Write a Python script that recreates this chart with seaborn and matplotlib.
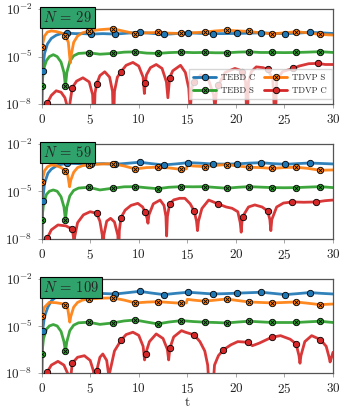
import numpy as np
import matplotlib
matplotlib.use("Agg")
import matplotlib.pyplot as plt
import seaborn as sns

# --- data: log10 of the error ---
sizes = [29, 59, 109]
labels = ["TEBD C", "TEBD S", "TDVP S", "TDVP C"]

# shared marker times
mk_tebd_c = [0.1, 2.6, 5.1, 7.6, 10.1, 12.6, 15.1, 17.6, 20.1, 22.6, 25.1, 27.6]
mk_tdvp_s = [0.02, 2.45, 4.85, 7.3, 9.65, 11.95, 14.3, 16.8, 19.05, 21.35, 23.75, 26.2, 28.65]
mk_tebd_s = [0.02, 2.45, 4.85, 7.3, 9.65, 11.95, 14.4, 16.8, 19.05, 21.35, 23.75, 26.2, 28.65]

t_tebd_s = [0, 0.02, 0.2, 0.5, 0.8, 1.2, 1.6, 2.0, 2.3, 2.45, 2.6, 2.9, 3.3, 3.8, 4.85, 6.0, 7.3, 8.5,
            9.65, 10.8, 11.95, 13.1, 14.4, 15.6, 16.8, 17.9, 19.05, 20.2, 21.35, 22.5, 23.75, 25.0,
            26.2, 27.4, 28.65, 30]

# N = 29
t_tebd_c_29 = [0, 0.1, 0.3, 0.6, 1.0, 1.5, 2.0, 2.6, 3.5, 4.3, 5.1, 6.3, 7.6, 8.8, 10.1, 11.3, 12.6, 13.8,
               15.1, 16.3, 17.6, 18.8, 20.1, 21.3, 22.6, 23.8, 25.1, 26.3, 27.6, 28.8, 30]
lg_tebd_c_29 = [-9, -5.9, -4.8, -4.2, -3.85, -3.65, -3.55, -3.52, -3.55, -3.55, -3.58, -3.55, -3.58, -3.52,
                -3.47, -3.53, -3.6, -3.55, -3.5, -3.53, -3.55, -3.55, -3.54, -3.52, -3.5, -3.53, -3.55,
                -3.52, -3.47, -3.5, -3.54]
t_tdvp_s_29 = [0, 0.02, 0.3, 0.6, 1.0, 1.5, 2.0, 2.45, 2.75, 2.95, 3.05, 3.3, 3.7, 4.2, 4.85, 6.0, 7.3, 8.5,
               9.65, 10.8, 11.95, 13.1, 14.3, 15.5, 16.8, 17.9, 19.05, 20.2, 21.35, 22.5, 23.75, 25.0,
               26.2, 27.4, 28.65, 30]
lg_tdvp_s_29 = [-6.5, -4.42, -3.7, -3.45, -3.38, -3.42, -3.5, -3.69, -4.1, -5.4, -4.9, -4.1, -3.7, -3.5,
                -3.39, -3.3, -3.24, -3.4, -3.56, -3.5, -3.47, -3.52, -3.54, -3.5, -3.45, -3.38, -3.33,
                -3.38, -3.41, -3.5, -3.56, -3.5, -3.43, -3.5, -3.6, -3.64]
lg_tebd_s_29 = [-9, -6.84, -5.8, -5.25, -5.0, -4.88, -5.0, -5.35, -6.0, -6.86, -6.0, -5.3, -4.95, -4.8,
                -4.76, -4.85, -4.8, -4.72, -4.7, -4.78, -4.8, -4.75, -4.72, -4.75, -4.74, -4.76, -4.76,
                -4.72, -4.7, -4.74, -4.74, -4.75, -4.74, -4.72, -4.69, -4.74]
t_tdvp_c_29 = [0.25, 0.6, 1.0, 1.5, 2.0, 2.4, 2.7, 2.8, 2.9, 3.15, 3.6, 4.25, 4.9, 5.25, 5.38, 5.5, 5.66,
               6.0, 6.5, 7.0, 7.3, 7.4, 7.5, 7.8, 8.17, 8.7, 9.4, 10.0, 10.45, 10.58, 10.67, 10.8, 11.2,
               11.8, 12.4, 12.85, 13.0, 13.18, 13.5, 14.3, 14.8, 15.15, 15.3, 15.45, 15.7, 16.4, 17.2,
               17.7, 17.85, 18.0, 18.2, 18.9, 19.9, 20.4, 20.65, 21.0, 21.15, 21.3, 21.6, 22.1, 22.8,
               23.27, 23.8, 24.05, 24.2, 24.8, 25.9, 26.5, 27.5, 28.5, 29.2, 30.0]
lg_tdvp_c_29 = [-8.6, -7.92, -7.45, -7.16, -7.25, -7.6, -8.3, -9.5, -8.0, -6.97, -6.55, -6.34, -6.6, -7.4,
                -9.5, -7.3, -6.74, -6.2, -5.96, -6.3, -7.2, -9.5, -7.2, -6.3, -5.96, -5.55, -5.37, -5.6,
                -6.3, -7.33, -6.65, -6.15, -5.7, -5.5, -5.75, -6.6, -7.6, -6.34, -5.9, -5.55, -6.0, -7.0,
                -8.5, -7.0, -6.6, -6.15, -6.5, -7.4, -8.3, -7.2, -6.8, -6.0, -5.75, -5.85, -5.96, -6.6,
                -9.5, -6.6, -5.95, -5.65, -5.7, -5.81, -6.4, -9.5, -6.5, -5.95, -5.75, -5.6, -5.45, -5.43,
                -5.5, -5.5]
mk_tdvp_c_29 = [0.6, 3.15, 5.66, 8.17, 10.67, 13.18, 15.7, 18.2, 20.65, 23.27, 25.9, 28.5]

# N = 59
t_tebd_c_59 = [0, 0.1, 0.3, 0.65, 1.0, 1.5, 2.0, 2.6, 3.8, 5.1, 6.3, 7.6, 8.8, 10.1, 11.3, 12.6, 13.8,
               15.1, 16.3, 17.6, 18.8, 20.1, 21.3, 22.6, 23.8, 25.1, 26.3, 27.6, 28.8, 30]
lg_tebd_c_59 = [-9, -5.62, -4.5, -3.86, -3.6, -3.4, -3.3, -3.23, -3.25, -3.27, -3.25, -3.29, -3.23, -3.16,
                -3.25, -3.33, -3.27, -3.19, -3.22, -3.27, -3.28, -3.27, -3.22, -3.19, -3.25, -3.29, -3.25,
                -3.21, -3.24, -3.27]
t_tdvp_s_59 = [0, 0.02, 0.3, 0.6, 1.0, 1.5, 2.0, 2.45, 2.7, 2.88, 3.0, 3.3, 3.7, 4.2, 4.85, 6.0, 7.3, 8.5,
               9.65, 10.8, 11.95, 13.1, 14.3, 14.9, 15.0, 15.6, 16.8, 17.9, 19.05, 20.2, 21.35, 22.5,
               23.75, 25.0, 26.2, 27.4, 28.65, 30]
lg_tdvp_s_59 = [-6.5, -4.39, -3.7, -3.45, -3.33, -3.38, -3.5, -3.69, -4.0, -4.72, -4.3, -3.8, -3.5, -3.38,
                -3.33, -3.28, -3.25, -3.4, -3.59, -3.5, -3.48, -3.52, -3.61, -3.58, -3.35, -3.4, -3.44,
                -3.36, -3.31, -3.4, -3.48, -3.5, -3.55, -3.5, -3.48, -3.55, -3.67, -3.65]
lg_tebd_s_59 = [-9, -6.83, -5.8, -5.2, -5.0, -4.92, -5.0, -5.35, -6.0, -6.8, -6.0, -5.3, -4.95, -4.8,
                -4.75, -4.92, -4.81, -4.72, -4.71, -4.78, -4.84, -4.75, -4.71, -4.72, -4.71, -4.76, -4.81,
                -4.75, -4.71, -4.74, -4.77, -4.78, -4.77, -4.74, -4.71, -4.77]
t_tdvp_c_59 = [0.3, 0.6, 1.0, 1.68, 2.5, 3.15, 3.28, 3.33, 3.4, 3.7, 4.3, 5.0, 5.66, 6.0, 6.25, 6.32, 6.4,
               6.7, 7.1, 7.5, 7.85, 7.92, 8.0, 8.17, 8.6, 9.2, 9.9, 10.4, 10.67, 10.85, 10.95, 11.05,
               11.5, 12.2, 12.6, 12.8, 12.87, 12.95, 13.18, 13.6, 14.2, 14.75, 15.3, 15.7, 15.95, 16.05,
               16.15, 16.5, 17.2, 18.2, 19.0, 19.6, 20.2, 20.45, 20.55, 20.62, 20.7, 21.3, 21.95, 22.7,
               23.27, 23.5, 23.6, 23.7, 24.2, 24.9, 25.8, 27.0, 28.3, 29.2, 30.0]
lg_tdvp_c_59 = [-9.0, -7.95, -7.45, -7.14, -7.2, -7.4, -7.9, -9.5, -7.9, -7.0, -6.5, -6.3, -6.4, -6.9,
                -7.8, -9.5, -7.8, -6.9, -6.72, -6.95, -7.8, -9.5, -7.5, -6.68, -6.2, -5.9, -5.77, -6.0,
                -6.34, -6.7, -7.03, -6.5, -5.8, -5.56, -5.9, -6.6, -7.84, -6.6, -5.81, -5.55, -5.45,
                -5.45, -5.8, -6.25, -6.9, -7.5, -6.9, -6.1, -5.56, -5.81, -6.0, -6.08, -6.3, -7.0, -7.6,
                -7.0, -6.61, -6.0, -5.87, -6.0, -6.25, -6.8, -7.5, -6.8, -6.0, -5.75, -5.68, -5.7, -5.68,
                -5.6, -5.56]
mk_tdvp_c_59 = [0.6, 3.15, 5.66, 8.17, 10.67, 13.18, 15.7, 18.2, 20.7, 23.27, 25.8, 28.3]

# N = 109
t_tebd_c_109 = [0, 0.1, 0.3, 0.64, 1.0, 1.8, 2.6, 3.8, 5.1, 6.3, 7.6, 8.8, 10.1, 11.3, 12.6, 13.8, 15.1,
                16.3, 17.6, 18.8, 20.1, 21.3, 22.6, 23.8, 25.1, 26.3, 27.6, 28.8, 30]
lg_tebd_c_109 = [-9, -5.3, -4.4, -3.8, -3.4, -3.0, -2.95, -2.93, -2.92, -2.93, -2.96, -2.88, -2.79, -2.9,
                 -3.0, -2.92, -2.85, -2.9, -2.96, -2.94, -2.91, -2.88, -2.85, -2.92, -3.0, -2.94, -2.87,
                 -2.92, -2.96]
t_tdvp_s_109 = [0, 0.02, 0.3, 0.8, 1.5, 2.0, 2.45, 2.7, 2.9, 3.0, 3.3, 3.7, 4.2, 4.85, 6.0, 7.3, 8.5,
                9.65, 10.8, 11.95, 13.1, 14.3, 14.9, 15.0, 15.6, 16.8, 17.9, 19.05, 20.2, 21.35, 22.5,
                23.75, 25.0, 26.2, 27.4, 28.65, 30]
lg_tdvp_s_109 = [-6.5, -4.38, -3.8, -3.49, -3.52, -3.57, -3.64, -3.95, -4.76, -4.4, -3.8, -3.5, -3.35,
                 -3.28, -3.23, -3.21, -3.35, -3.53, -3.48, -3.45, -3.5, -3.55, -3.53, -3.3, -3.35, -3.42,
                 -3.35, -3.28, -3.38, -3.47, -3.5, -3.53, -3.5, -3.47, -3.55, -3.64, -3.6]
lg_tebd_s_109 = [-9, -6.81, -5.8, -5.2, -5.0, -4.91, -5.0, -5.35, -6.0, -6.6, -6.0, -5.3, -4.95, -4.8,
                 -4.76, -4.9, -4.81, -4.68, -4.62, -4.75, -4.87, -4.75, -4.66, -4.72, -4.76, -4.78, -4.81,
                 -4.75, -4.7, -4.74, -4.78, -4.78, -4.78, -4.74, -4.7, -4.78]
t_tdvp_c_109 = [0.3, 0.6, 1.0, 1.68, 2.3, 2.8, 2.95, 3.05, 3.15, 3.7, 4.4, 5.0, 5.35, 5.45, 5.55, 5.66,
                6.0, 6.3, 6.7, 6.88, 6.93, 7.0, 7.5, 8.2, 8.7, 9.4, 10.0, 10.45, 10.6, 10.7, 11.1, 11.8,
                12.5, 12.95, 13.08, 13.2, 13.6, 14.4, 14.8, 15.7, 16.3, 16.8, 17.1, 17.3, 17.6, 17.8,
                18.2, 18.7, 19.5, 20.2, 21.2, 21.7, 22.4, 23.7, 24.6, 25.6, 26.2, 26.5, 26.6, 26.7, 27.1,
                27.8, 28.7, 29.3, 29.6, 29.7, 29.85, 30.0]
lg_tdvp_c_109 = [-9.0, -7.92, -7.5, -7.26, -7.5, -8.2, -9.5, -8.0, -7.38, -7.0, -6.9, -7.2, -7.9, -9.5,
                 -8.3, -7.89, -7.0, -6.79, -7.2, -8.0, -9.5, -8.0, -6.6, -5.89, -5.55, -5.4, -5.6, -6.3,
                 -7.17, -6.79, -6.0, -5.51, -5.8, -6.5, -7.17, -6.43, -5.7, -5.3, -5.4, -5.57, -6.0, -6.6,
                 -7.5, -9.5, -9.5, -7.5, -6.9, -6.53, -6.2, -6.0, -6.04, -6.26, -6.1, -5.72, -5.62, -5.85,
                 -6.15, -6.9, -7.38, -6.9, -6.0, -5.62, -5.87, -6.3, -7.0, -7.3, -7.0, -6.68]
mk_tdvp_c_109 = [0.6, 3.15, 5.66, 8.2, 10.7, 13.2, 15.7, 18.7, 21.2, 23.7, 26.2, 28.7]

panels = [
    [(t_tebd_c_29, lg_tebd_c_29, mk_tebd_c), (t_tebd_s, lg_tebd_s_29, mk_tebd_s),
     (t_tdvp_s_29, lg_tdvp_s_29, mk_tdvp_s), (t_tdvp_c_29, lg_tdvp_c_29, mk_tdvp_c_29)],
    [(t_tebd_c_59, lg_tebd_c_59, mk_tebd_c), (t_tebd_s, lg_tebd_s_59, mk_tebd_s),
     (t_tdvp_s_59, lg_tdvp_s_59, mk_tdvp_s), (t_tdvp_c_59, lg_tdvp_c_59, mk_tdvp_c_59)],
    [(t_tebd_c_109, lg_tebd_c_109, mk_tebd_c), (t_tebd_s, lg_tebd_s_109, mk_tebd_s),
     (t_tdvp_s_109, lg_tdvp_s_109, mk_tdvp_s), (t_tdvp_c_109, lg_tdvp_c_109, mk_tdvp_c_109)],
]

colors = ["#1f77b4", "#2ca02c", "#ff7f0e", "#d62728"]
crossed = [False, True, True, False]

# --- style ---
sns.set_theme(style="ticks")
plt.rcParams["font.family"] = ["cmr10", "DejaVu Serif"]
plt.rcParams["mathtext.fontset"] = "cm"
plt.rcParams["axes.unicode_minus"] = False
plt.rcParams["axes.formatter.use_mathtext"] = True

fig = plt.figure(figsize=(3.44, 4.13), dpi=100)
rects = [[0.121, 0.748, 0.847, 0.230],
         [0.121, 0.4225, 0.847, 0.229],
         [0.121, 0.097, 0.847, 0.2276]]

for p, (rect, N, series) in enumerate(zip(rects, sizes, panels)):
    ax = fig.add_axes(rect)
    ax.set_yscale("log")
    handles = []
    for (t, lg, mk), c, cr, lab in zip(series, colors, crossed, labels):
        t = np.asarray(t, float)
        y = 10.0 ** np.asarray(lg, float)
        sns.lineplot(x=t, y=y, ax=ax, color=c, lw=2.0, alpha=0.92, sort=False,
                     estimator=None, legend=False, zorder=2)
        sel = np.isin(t, mk)
        ax.plot(t[sel], y[sel], "o", ms=4.6, mfc=c, mec="black", mew=0.6, ls="none", zorder=3)
        hl = matplotlib.lines.Line2D([], [], color=c, lw=2.0, marker="o", ms=4.6,
                                     mfc=c, mec="black", mew=0.6)
        if cr:
            ax.plot(t[sel], y[sel], "x", ms=2.6, mec="black", mew=0.6, ls="none", zorder=4)
            hx = matplotlib.lines.Line2D([], [], ls="none", marker="x", ms=2.6,
                                         mec="black", mew=0.6)
            handles.append(((hl, hx), lab))
        else:
            handles.append((hl, lab))

    ax.set_xlim(0, 30)
    ax.set_ylim(1e-8, 1e-2)
    ax.set_yticks([1e-8, 1e-5, 1e-2])
    ax.yaxis.set_minor_locator(matplotlib.ticker.NullLocator())
    ax.set_xticks([0, 5, 10, 15, 20, 25, 30])
    ax.tick_params(labelsize=9.5, length=3, width=0.6, direction="out",
                   colors="#999999", labelcolor="#222222")
    for s in ax.spines.values():
        s.set_visible(True)
        s.set_color("#555555")
        s.set_linewidth(0.9)
    ax.set_ylabel("")
    ax.set_xlabel("")

    ax.text(0.006, 0.988, r"$N$ = %d" % N, transform=ax.transAxes, ha="left", va="top",
            fontsize=10.5, zorder=10,
            bbox=dict(boxstyle="square,pad=0.2", fc="#2fa36b", ec="black", lw=0.8))

    if p == 0:
        leg = ax.legend([h for h, _ in handles], [l for _, l in handles], ncol=2,
                        loc="lower right", bbox_to_anchor=(0.995, 0.05), borderaxespad=0,
                        fontsize=6.3, handlelength=2.6, columnspacing=1.0, handletextpad=0.6,
                        labelspacing=0.5, frameon=True, fancybox=False, framealpha=0.8,
                        edgecolor="#cccccc", borderpad=0.5)
        leg.set_zorder(6)
    if p == 2:
        ax.set_xlabel("t", fontsize=10, labelpad=1)

fig.savefig("out.png", dpi=100)
